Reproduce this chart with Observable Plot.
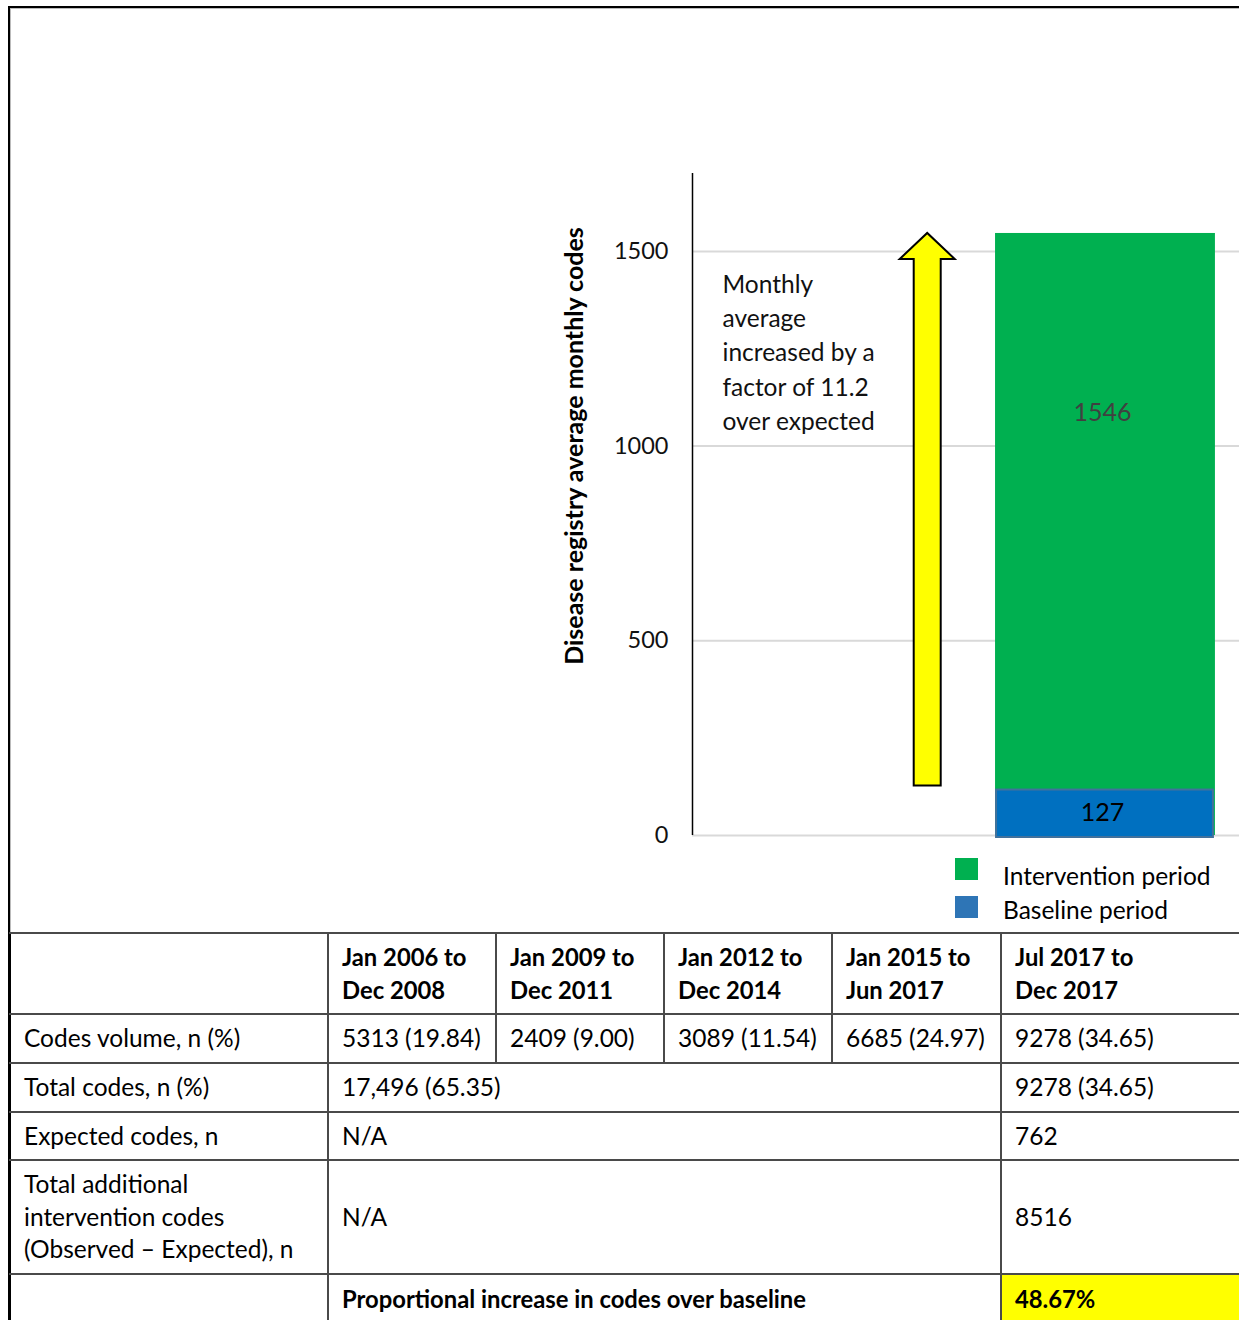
<!DOCTYPE html>
<html><head><meta charset="utf-8">
<script src="https://cdn.jsdelivr.net/npm/d3@7"></script>
<script src="https://cdn.jsdelivr.net/npm/@observablehq/plot@0.6"></script>
<style>
html,body{margin:0;padding:0;background:#fff;}
body{width:1239px;height:1320px;overflow:hidden;position:relative;font-family:Lato,"Open Sans",sans-serif;color:#000;}
#frame{position:absolute;left:8px;top:6px;width:1400px;height:1400px;border-top:2px solid #000;border-left:2px solid #000;}
#frame2{position:absolute;left:10px;top:8px;width:1400px;height:1400px;border-top:1px solid #bbb;border-left:1px solid #bbb;}
#chart{position:absolute;left:0;top:0;}
#ylabel{position:absolute;left:573px;top:446px;transform:translate(-50%,-50%) rotate(-90deg);white-space:nowrap;font-weight:700;font-size:25px;color:#000;}
.leg{position:absolute;left:955px;font-size:24.5px;white-space:nowrap;}
.leg span.sw{position:absolute;left:0;top:0;width:23px;height:22px;}
.leg span.tx{position:absolute;left:48px;line-height:28px;}
#tbl{position:absolute;left:9px;top:932px;border-collapse:collapse;table-layout:fixed;width:1300px;font-size:24.5px;}
#tbl td{border:2px solid #4a4a4a;padding:0 0 0 13px;vertical-align:middle;line-height:32.5px;white-space:nowrap;}
#tbl td.first{border-left:2px solid #000;}
#tbl td.b{font-weight:700;font-size:23.8px;}
#tbl td.hl{background:#ffff00;font-weight:700;font-size:23.8px;}
</style></head><body>
<div id="frame"></div><div id="frame2"></div>
<div id="chart"></div>
<div id="ylabel"></div>
<div id="legend"></div>
<table id="tbl"></table>
<script>
// ---- data ----
const yLabel = "Disease registry average monthly codes";
const yTicks = [0, 500, 1000, 1500];
const seriesNames = ["Intervention period", "Baseline period"];
const seriesValues = [1546, 127];
const annotationLines = ["Monthly", "average", "increased by a", "factor of 11.2", "over expected"];
const periods = [["Jan 2006 to", "Dec 2008"], ["Jan 2009 to", "Dec 2011"], ["Jan 2012 to", "Dec 2014"], ["Jan 2015 to", "Jun 2017"], ["Jul 2017 to", "Dec 2017"]];
const rowLabels = ["Codes volume, n (%)", "Total codes, n (%)", "Expected codes, n", "Total additional<br>intervention codes<br>(Observed \u2013 Expected), n"];
const codesVolume = ["5313 (19.84)", "2409 (9.00)", "3089 (11.54)", "6685 (24.97)", "9278 (34.65)"];
const totalCodes = ["17,496 (65.35)", "9278 (34.65)"];
const expectedCodes = ["N/A", "762"];
const additionalCodes = ["N/A", "8516"];
const proportionalLabel = "Proportional increase in codes over baseline";
const proportionalValue = "48.67%";

// ---- styles ----
const colors = {intervention: "#00b050", baseline: "#0070c0", baselineStroke: "#41719c", legendBaseline: "#2e75b6", grid: "#d9d9d9", arrow: "#ffff00"};

const H = 850, MT = 173, MB = H - 835, ML = 692;
const barX1 = 0.554, barX2 = 0.956, barXC = (barX1 + barX2) / 2, arrowX = 0.43;

function arrowMark(index, scales) {
  const cx = scales.x(arrowX);
  const yb = scales.y(seriesValues[1]);
  const yt = scales.y(seriesValues[0]);
  const sw = 13.5, hw = 27.5, hh = 26;
  const d = `M${cx - sw},${yb}L${cx - sw},${yt + hh}L${cx - hw},${yt + hh}L${cx},${yt}L${cx + hw},${yt + hh}L${cx + sw},${yt + hh}L${cx + sw},${yb}Z`;
  const p = document.createElementNS("http://www.w3.org/2000/svg", "path");
  p.setAttribute("d", d);
  p.setAttribute("fill", colors.arrow);
  p.setAttribute("stroke", "#000");
  p.setAttribute("stroke-width", "2");
  return p;
}

const chart = Plot.plot({
  width: 1239, height: H,
  marginLeft: ML, marginRight: 0, marginTop: MT, marginBottom: MB,
  x: {domain: [0, 1], axis: null},
  y: {domain: [0, 1700]},
  style: {fontFamily: "Lato, 'Open Sans', sans-serif", background: "transparent"},
  marks: [
    Plot.ruleY(yTicks, {stroke: colors.grid, strokeWidth: 2}),
    Plot.axisY({ticks: yTicks, tickFormat: d => String(d), tickSize: 0, tickPadding: 24, fontSize: 23.5, label: null, color: "#111"}),
    Plot.ruleX([0], {y1: 0, y2: 1700, stroke: "#000", strokeWidth: 1.5}),
    Plot.rect([seriesValues[0]], {x1: barX1, x2: barX2, y1: 0, y2: d => d, fill: colors.intervention}),
    Plot.rect([seriesValues[1]], {x1: barX1, x2: barX2, y1: 0, y2: d => d, fill: colors.baseline, stroke: colors.baselineStroke, strokeWidth: 2, insetLeft: 1, insetRight: 2, insetTop: 4, insetBottom: -2}),
    arrowMark,
    Plot.text([annotationLines.join("\n")], {frameAnchor: "top-left", dx: 30, dy: 95, lineAnchor: "top", textAnchor: "start", lineHeight: 1.40, fontSize: 24.5, fill: "#111"}),
    Plot.text([seriesValues[0]], {x: barXC, frameAnchor: "top", dx: -3, dy: 239, text: d => String(d), lineAnchor: "middle", fontSize: 25, fill: "#404040"}),
    Plot.text([seriesValues[1]], {x: barXC, y: d => d / 2, text: d => String(d), lineAnchor: "middle", dx: -3, dy: 2, fontSize: 25, fill: "#000"})
  ]
});
document.getElementById("chart").append(chart);
document.getElementById("ylabel").textContent = yLabel;

// legend
const leg = document.getElementById("legend");
const legColors = [colors.intervention, colors.legendBaseline];
const legTops = [858, 896];
const legTextOffsets = [4, 0];
seriesNames.forEach((n, i) => {
  const d = document.createElement("div");
  d.className = "leg";
  d.style.top = legTops[i] + "px";
  d.innerHTML = `<span class="sw" style="background:${legColors[i]}"></span><span class="tx" style="top:${legTextOffsets[i]}px">${n}</span>`;
  leg.append(d);
});

// table
const colW = [318, 168, 168, 168, 169, 309];
let html = "<colgroup>" + colW.map(w => `<col style="width:${w}px">`).join("") + "</colgroup>";
html += `<tr style="height:81px"><td class="first"></td>${periods.map(p => `<td class="b">${p[0]}<br>${p[1]}</td>`).join("")}</tr>`;
html += `<tr style="height:49px"><td class="first">${rowLabels[0]}</td>${codesVolume.map(v => `<td>${v}</td>`).join("")}</tr>`;
html += `<tr style="height:49px"><td class="first">${rowLabels[1]}</td><td colspan="4">${totalCodes[0]}</td><td>${totalCodes[1]}</td></tr>`;
html += `<tr style="height:48px"><td class="first">${rowLabels[2]}</td><td colspan="4">${expectedCodes[0]}</td><td>${expectedCodes[1]}</td></tr>`;
html += `<tr style="height:114px"><td class="first">${rowLabels[3]}</td><td colspan="4">${additionalCodes[0]}</td><td>${additionalCodes[1]}</td></tr>`;
html += `<tr style="height:50px"><td class="first"></td><td colspan="4" class="b">${proportionalLabel}</td><td class="hl">${proportionalValue}</td></tr>`;
document.getElementById("tbl").innerHTML = html;
</script>
</body></html>
